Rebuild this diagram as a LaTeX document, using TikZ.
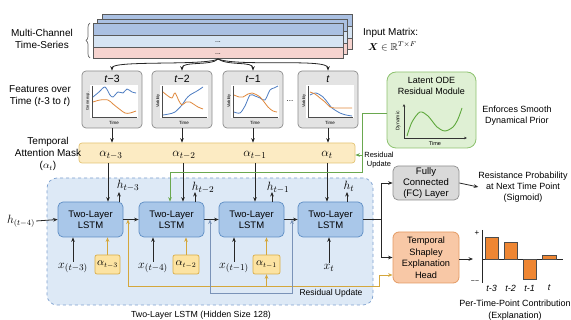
\documentclass[tikz,border=0pt]{standalone}
\usepackage{amsmath,amssymb,bm}
\usepackage[no-math]{fontspec}
\setmainfont{Liberation Sans}
\usetikzlibrary{arrows.meta,decorations.pathreplacing,calc}
\definecolor{stblue}{HTML}{AAC0E2}
\definecolor{stlight}{HTML}{D6E4F3}
\definecolor{stpink}{HTML}{F6D3CF}
\definecolor{panelg}{HTML}{E3E3E3}
\definecolor{panelb}{HTML}{8C8C8C}
\definecolor{curveb}{HTML}{4E7DC2}
\definecolor{curveo}{HTML}{E0883C}
\definecolor{maskf}{HTML}{FCEBC3}
\definecolor{maskd}{HTML}{E3C474}
\definecolor{odef}{HTML}{DFF0D4}
\definecolor{oded}{HTML}{8DC26F}
\definecolor{odec}{HTML}{5EA83C}
\definecolor{regf}{HTML}{DDE9F6}
\definecolor{regd}{HTML}{7DA0CF}
\definecolor{lstmf}{HTML}{A9C7E9}
\definecolor{lstmd}{HTML}{5E8DC4}
\definecolor{fcf}{HTML}{D9D9D9}
\definecolor{fcd}{HTML}{8F8F8F}
\definecolor{shf}{HTML}{F8C8A6}
\definecolor{shd}{HTML}{E49A63}
\definecolor{barc}{HTML}{EE8633}
\definecolor{abf}{HTML}{FCE3A2}
\definecolor{abd}{HTML}{D9AE4A}
\definecolor{goldl}{HTML}{D4A73C}
\definecolor{grayl}{HTML}{7A93B8}
\definecolor{greenl}{HTML}{6AA84F}
\newcommand{\featpanel}[7]{%
\begin{scope}[shift={(#2,#3)}]
\node[panelbox] (#1) at (30,28.5) {};
\fill[white] (8,14) rectangle (56,47);
\draw[black!70, line width=0.5pt] (10,15) -- (10,46) -- (55,46);
\node[font=\fontsize{10.5}{11}\selectfont, inner sep=0pt] (#1t) at (30,8) {#4};
\node[rotate=90, font=\fontsize{4}{5}\selectfont, inner sep=0pt] (#1y) at (6,30) {#5};
\node[font=\fontsize{4.5}{5}\selectfont, inner sep=0pt] (#1x) at (32,52) {Time};
\draw[curveb, line width=0.8pt] plot[smooth] coordinates {#6};
\draw[curveo, line width=0.8pt] plot[smooth] coordinates {#7};
\end{scope}}
\begin{document}
\begin{tikzpicture}[x=1pt,y=-1pt,
  font=\fontsize{10}{12}\selectfont,
  arr/.style={-{Stealth[length=4.5pt,width=3.6pt]}, line width=0.8pt, draw=black!85},
  panelbox/.style={minimum width=60pt, minimum height=57pt, rounded corners=4pt, fill=panelg, draw=panelb, line width=0.7pt, inner sep=0pt},
  lstmbox/.style={minimum width=65pt, minimum height=35pt, rounded corners=5pt, fill=lstmf, draw=lstmd, line width=0.7pt, align=center, font=\fontsize{9.5}{11}\selectfont, inner sep=0pt},
  abox/.style={minimum height=19pt, rounded corners=2pt, fill=abf, draw=abd, line width=0.7pt, inner sep=0pt, font=\fontsize{10.5}{12}\selectfont},
  mlab/.style={inner sep=1pt, font=\fontsize{12.5}{14}\selectfont},
  txt/.style={align=center, inner sep=0pt}]
\useasboundingbox (0,0) rectangle (571,320);
% ---------- input stack ----------
\foreach \dx/\dy in {9/-9,4/-4,0/0}{
  \fill[stblue] (93+\dx,23+\dy) rectangle (343+\dx,35+\dy);
  \fill[stlight] (93+\dx,35+\dy) rectangle (343+\dx,47+\dy);
  \fill[stpink] (93+\dx,47+\dy) rectangle (343+\dx,58+\dy);
  \draw[black!65, line width=0.6pt] (93+\dx,23+\dy) rectangle (343+\dx,58+\dy);
  \draw[black!65, line width=0.6pt] (93+\dx,35+\dy) -- (343+\dx,35+\dy) (93+\dx,47+\dy) -- (343+\dx,47+\dy);
}
\node[inner sep=0pt, font=\fontsize{7}{8}\selectfont] (dots1) at (218,42) {...};
\node[inner sep=0pt, font=\fontsize{7}{8}\selectfont] (dots2) at (218,54) {...};
\coordinate (stk) at (218,59);
\draw[decorate, decoration={brace,amplitude=4pt}, black!60, line width=0.7pt] (90,58) -- (90,23);
\node[txt] (mc) at (42,39) {Multi-Channel\\Time-Series};
\node[inner sep=0pt, anchor=west] (im) at (363,33) {Input Matrix:};
\node[inner sep=0pt, anchor=west] (imx) at (368,46) {$\bm{X}\in\mathbb{R}^{T\times F}$};
% ---------- feature panels ----------
\featpanel{p3}{82}{71}{\textit{t}−3}{Gene exp.}{(11,26) (17,21) (23,16) (28,24) (31,26) (36,21) (41,22) (45,18) (50,21) (54,22)}{(11,31) (18,29) (26,29) (31,33) (36,37) (43,42) (48,42) (54,40)}
\featpanel{p2}{152}{71}{\textit{t}−2}{Viability}{(11,44) (17,43) (23,41) (30,34) (34,28) (38,24) (45,20) (51,16)}{(11,21) (16,25) (20,27) (23,22) (27,30) (30,34) (34,31) (38,31) (46,36) (51,38)}
\featpanel{p1}{223}{71}{\textit{t}−1}{Viability}{(11,41) (17,42) (22,35) (27,24) (32,25) (37,27) (42,29) (47,19) (51,17) (55,15)}{(11,24) (16,26) (20,26) (25,23) (29,22) (37,26) (45,36) (50,40) (54,41)}
\featpanel{p0}{298}{71}{\textit{t}}{Viability}{(12,24) (18,22) (25,26) (30,32) (34,37) (42,42) (48,44) (54,45)}{(12,21) (17,23) (22,27) (27,31) (32,36) (37,37) (44,37) (54,37)}
\node[inner sep=0pt, font=\fontsize{8}{9}\selectfont] (pd) at (290,101) {...};
\draw[arr] (stk) .. controls (205,66) and (112,60) .. (p3.north);
\draw[arr] (stk) .. controls (212,66) and (182,61) .. (p2.north);
\draw[arr] (stk) .. controls (228,66) and (253,61) .. (p1.north);
\draw[arr] (stk) .. controls (238,67) and (328,58) .. (p0.north);
\node[txt] (feat) at (40,96) {Features over\\Time (\textit{t}-3 to \textit{t})};
% ---------- attention mask ----------
\node[minimum width=276pt, minimum height=20pt, rounded corners=3pt, fill=maskf, draw=maskd, line width=0.7pt, inner sep=0pt] (mask) at (217,153) {};
\node[mlab, font=\fontsize{13}{15}\selectfont] (a3) at (111,155) {$\alpha_{t-3}$};
\node[mlab, font=\fontsize{13}{15}\selectfont] (a2) at (184,155) {$\alpha_{t-2}$};
\node[mlab, font=\fontsize{13}{15}\selectfont] (a1) at (255,155) {$\alpha_{t-1}$};
\node[mlab, font=\fontsize{13}{15}\selectfont] (a0) at (327,155) {$\alpha_{t}$};
\foreach \p in {p3,p2,p1,p0}{\draw[arr] (\p.south) -- (\p.south |- mask.north);}
\node[txt] (tam) at (48,154) {Temporal\\Attention Mask\\($\alpha_t$)};
% ---------- latent ODE ----------
\node[minimum width=89pt, minimum height=76pt, rounded corners=9pt, fill=odef, draw=oded, line width=0.8pt, inner sep=0pt] (ode) at (431.5,110) {};
\node[txt, font=\fontsize{9}{11}\selectfont] (odet) at (431.5,86) {Latent ODE\\Residual Module};
\coordinate (oo) at (404,138);
\coordinate (oy) at (404,104);
\coordinate (ox) at (467,138);
\draw[black!80, line width=0.7pt, -{Stealth[length=3pt,width=2.6pt]}] (oo) -- (oy);
\draw[black!80, line width=0.7pt, -{Stealth[length=3pt,width=2.6pt]}] (oo) -- (ox);
\node[rotate=90, inner sep=0pt, font=\fontsize{5}{6}\selectfont] (ody) at (398,121) {Dynamic};
\node[inner sep=0pt, font=\fontsize{5.5}{6}\selectfont] (odx) at (435,143.5) {Time};
\draw[odec, line width=0.9pt] plot[smooth] coordinates {(407,136) (412,122) (420,112) (428,116) (437,127) (445,131) (453,127) (458,119) (462,108)};
\node[txt, font=\fontsize{9}{11}\selectfont] (enf) at (517,116) {Enforces Smooth\\Dynamical Prior};
% ---------- LSTM region ----------
\node[minimum width=326pt, minimum height=127pt, rounded corners=10pt, fill=regf, draw=regd, dashed, line width=0.7pt, inner sep=0pt] (reg) at (210,241.5) {};
\node[inner sep=0pt, font=\fontsize{8.8}{10}\selectfont] (cap) at (201,315) {Two-Layer LSTM (Hidden Size 128)};
\node[lstmbox] (l1) at (90.5,219.5) {Two-Layer\\LSTM};
\node[lstmbox] (l2) at (171.5,219.5) {Two-Layer\\LSTM};
\node[lstmbox] (l3) at (251.5,219.5) {Two-Layer\\LSTM};
\node[lstmbox] (l4) at (330.5,219.5) {Two-Layer\\LSTM};
\node[mlab, font=\fontsize{12}{14}\selectfont] (h0) at (21,221) {$h_{(t-4)}$};
\draw[arr] (h0.east) -- (l1.west);
\draw[arr] (l1.east) -- (l2.west);
\draw[arr] (l2.east) -- (l3.west);
\draw[arr] (l3.east) -- (l4.west);
% mask to lstm
\coordinate (c3) at (108,0); \coordinate (c2) at (183,0);
\coordinate (c1) at (255,0); \coordinate (c0) at (327,0);
\draw[arr] (mask.south -| c3) -- (l1.north -| c3);
\draw[arr] (mask.south -| c2) -- (l2.north -| c2);
\draw[arr] (mask.south -| c1) -- (l3.north -| c1);
\draw[arr] (mask.south -| c0) -- (l4.north -| c0);
% hidden outputs
\coordinate (hx3) at (119,192); \coordinate (hx2) at (195,192);
\coordinate (hx1) at (272,192); \coordinate (hx0) at (347,192);
\draw[arr] (l1.north -| hx3) -- (hx3);
\draw[arr] (l2.north -| hx2) -- (hx2);
\draw[arr] (l3.north -| hx1) -- (hx1);
\draw[arr] (l4.north -| hx0) -- (hx0);
\node[mlab] (ht3) at (128,186) {$h_{t-3}$};
\node[mlab] (ht2) at (203,188) {$h_{t-2}$};
\node[mlab] (ht1) at (278,188) {$h_{t-1}$};
\node[mlab] (ht0) at (349,186) {$h_{t}$};
% inputs below
\node[mlab] (xl3) at (73,268) {$x_{(t-3)}$};
\node[mlab] (xl2) at (153,268) {$x_{(t-4)}$};
\node[mlab] (xl1) at (234,268) {$x_{(t-1)}$};
\node[mlab] (xl0) at (329,268) {$x_{t}$};
\foreach \x/\l in {xl3/l1,xl2/l2,xl1/l3,xl0/l4}{\draw[arr] (\x.north) -- (\x.north |- \l.south);}
\node[abox, minimum width=25pt] (ab3) at (107.5,264.5) {$\alpha_{t-3}$};
\node[abox, minimum width=26pt] (ab2) at (186,264.5) {$\alpha_{t-2}$};
\node[abox, minimum width=27pt] (ab1) at (266.5,264.5) {$\alpha_{t-1}$};
\draw[arr, draw=goldl] (ab3.north) -- (ab3.north |- l1.south);
\draw[arr, draw=goldl] (ab2.north) -- (ab2.north |- l2.south);
\draw[arr, draw=goldl] (ab1.north) -- (ab1.north |- l3.south);
% ---------- FC and Shapley ----------
\node[minimum width=66pt, minimum height=34pt, rounded corners=5pt, fill=fcf, draw=fcd, line width=0.7pt, align=center, inner sep=0pt, font=\fontsize{9.5}{11.2}\selectfont] (fc) at (426,183) {Fully\\Connected\\(FC) Layer};
\node[txt, font=\fontsize{9}{11.2}\selectfont] (res) at (523,187) {Resistance Probability\\at Next Time Point\\(Sigmoid)};
\draw[arr] (fc.east) -- (res.west);
\node[minimum width=66pt, minimum height=51pt, rounded corners=6pt, fill=shf, draw=shd, line width=0.8pt, align=center, inner sep=0pt, font=\fontsize{9.2}{11.5}\selectfont] (sh) at (426,257.5) {Temporal\\Shapley\\Explanation\\Head};
\coordinate (br) at (381,219.5);
\draw[line width=0.8pt, black!85] (l4.east) -- (br);
\draw[arr] (br) |- (fc.west);
\draw[arr] (br) |- (sh.west);
% residual paths
\coordinate (g128) at (128,0);
\coordinate (gy) at (0,275);
\draw[goldl, line width=0.8pt, {Stealth[length=4.5pt,width=3.6pt]}-{Stealth[length=4.5pt,width=3.6pt]}] (l1.east -| g128) -- (128,286) -- (379,286) -- (379,275) -- (sh.west |- gy);
\coordinate (gab) at (266.5,286);
\draw[arr, draw=goldl] (gab) -- (ab1.south);
\coordinate (gr1) at (210,0); \coordinate (gr2) at (292,0);
\draw[grayl, line width=0.8pt, {Stealth[length=4.5pt,width=3.6pt]}-{Stealth[length=4.5pt,width=3.6pt]}] (l2.east -| gr1) -- (210,293) -- (292,293) -- (l3.east -| gr2);
\node[inner sep=0pt, font=\fontsize{8.5}{10}\selectfont] (ru2) at (331,293) {Residual Update};
\coordinate (g1) at (362,113);
\coordinate (g170) at (170,0);
\draw[greenl, line width=0.8pt, -{Stealth[length=4.5pt,width=3.6pt]}] (ode.west |- g1) -- (g1) -- (362,172) -- (170,172) -- (l2.north -| g170);
\coordinate (gm) at (362,155);
\draw[greenl, line width=0.8pt, -{Stealth[length=4.5pt,width=3.6pt]}] (gm) -- (gm -| mask.east);
\node[txt, font=\fontsize{7.5}{9.5}\selectfont] (ru1) at (379,160) {Residual\\Update};
% ---------- bar chart ----------
\coordinate (chin) at (473,259);
\draw[arr] (sh.east |- chin) -- (chin);
\draw[black!85, line width=0.7pt] (482,230) -- (482,283);
\draw[black!85, line width=0.7pt] (482,259) -- (563,259);
\fill[barc, draw=black!70, line width=0.5pt] (485,237) rectangle (498,259);
\fill[barc, draw=black!70, line width=0.5pt] (504,242) rectangle (517,259);
\fill[barc, draw=black!70, line width=0.5pt] (523,259) rectangle (536,279);
\fill[barc, draw=black!70, line width=0.5pt] (542,255) rectangle (556,259);
\node[inner sep=0pt, font=\fontsize{8}{9}\selectfont] (plus) at (477,233) {+};
\node[inner sep=0pt, font=\fontsize{7}{8}\selectfont] (minus) at (475,282) {−−};
\node[inner sep=0pt, font=\fontsize{9}{10}\itshape] (b3) at (491.5,288) {t-3};
\node[inner sep=0pt, font=\fontsize{9}{10}\itshape] (b2) at (510.5,288) {t-2};
\node[inner sep=0pt, font=\fontsize{9}{10}\itshape] (b1) at (529.5,288) {t-1};
\node[inner sep=0pt, font=\fontsize{9}{10}\itshape] (b0) at (549,288) {t};
\node[txt, font=\fontsize{9}{12}\selectfont] (pc) at (515,310) {Per-Time-Point Contribution\\(Explanation)};
\end{tikzpicture}
\end{document}
